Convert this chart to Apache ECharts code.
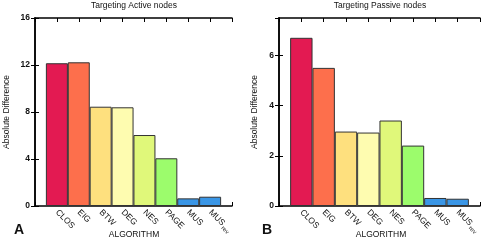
<!DOCTYPE html>
<html><head><meta charset="utf-8">
<script src="https://cdn.jsdelivr.net/npm/echarts@6/dist/echarts.min.js"></script>
<style>html,body{margin:0;padding:0;background:#fff}#c{width:485px;height:242px}</style>
</head><body><div id="c"></div>
<script>
const categories = ['CLOS','EIG','BTW','DEG','NES','PAGE','MUS','MUS_rev'];
const activeValues = [12.15, 12.23, 8.45, 8.4, 6.04, 4.06, 0.65, 0.79];
const passiveValues = [6.71, 5.51, 2.97, 2.93, 3.41, 2.41, 0.32, 0.29];
const barColors = ['#e31a52','#fd6f4c','#fee07e','#fefcb0','#e0f87a','#9cfc6c','#3a96e6','#3a96e6'];
const activeTicks = [0, 4, 8, 12, 16];
const passiveTicks = [0, 2, 4, 6];

const FONT = '"Liberation Sans", Arial, sans-serif';
const chart = echarts.init(document.getElementById('c'), null, {renderer: 'canvas'});

function catLabel(v) {
  const c = categories[v - 1];
  if (!c) return '';
  if (c === 'MUS_rev') return 'MUS{sub|rev}';
  return c;
}

const grids = [
  {left: 35, top: 18, width: 197, height: 188},
  {left: 279, top: 18, width: 201, height: 188}
];

const xAxes = [], yAxes = [], series = [];
[0, 1].forEach(g => {
  const ticksArr = g === 0 ? activeTicks : passiveTicks;
  const ymax = g === 0 ? 16 : 7.5;
  const interval = ticksArr[1] - ticksArr[0];
  xAxes.push({
    type: 'value', gridIndex: g, min: 0, max: 9, interval: 1, position: 'bottom',
    axisLine: {show: true, onZero: false, lineStyle: {color: '#000', width: 1.5}},
    axisTick: {show: true, inside: true, length: 4, lineStyle: {color: '#000'}},
    splitLine: {show: false},
    axisLabel: {
      show: true, rotate: -45, margin: 5, fontSize: 8.5, color: '#111', fontFamily: FONT,
      formatter: catLabel,
      rich: {sub: {fontSize: 6, verticalAlign: 'bottom', padding: [6, 0, 0, 1], fontFamily: FONT, color: '#111'}}
    }
  });
  xAxes.push({
    type: 'value', gridIndex: g, min: 0, max: 9, interval: 1, position: 'top',
    axisLine: {show: true, onZero: false, lineStyle: {color: '#000', width: 1.5}},
    axisTick: {show: true, inside: true, length: 4, lineStyle: {color: '#000'}},
    splitLine: {show: false}, axisLabel: {show: false}
  });
  yAxes.push({
    type: 'value', gridIndex: g, min: 0, max: ymax, interval: interval, position: 'left',
    axisLine: {show: true, lineStyle: {color: '#000', width: 1.5}},
    axisTick: {show: true, inside: true, length: 4, lineStyle: {color: '#000'}},
    splitLine: {show: false},
    axisLabel: {show: true, margin: 5, fontSize: 8.5, fontWeight: 'bold', color: '#111', fontFamily: FONT,
      showMaxLabel: g === 0,
      formatter: v => ticksArr.indexOf(v) >= 0 ? String(v) : ''}
  });
  yAxes.push({
    type: 'value', gridIndex: g, min: 0, max: ymax, interval: interval, position: 'right',
    axisLine: {show: true, lineStyle: {color: '#000', width: 1.5}},
    axisTick: {show: true, inside: true, length: 4, lineStyle: {color: '#000'}},
    splitLine: {show: false}, axisLabel: {show: false}
  });
  const vals = g === 0 ? activeValues : passiveValues;
  series.push({
    type: 'bar', xAxisIndex: g * 2, yAxisIndex: g * 2,
    barWidth: g === 0 ? 22 : 22.4,
    data: vals.map((v, i) => ({value: [i + 1, v], itemStyle: {color: barColors[i]}})),
    itemStyle: {borderColor: '#333', borderWidth: 1},
    emphasis: {disabled: true}, animation: false
  });
});

const txt = (x, y, text, size, weight, rot) => ({
  type: 'text', x: x, y: y, rotation: rot || 0,
  style: {text: text, fontSize: size, fontWeight: weight || 'normal', fontFamily: FONT, fill: '#111',
    align: 'center', verticalAlign: 'middle'}
});

chart.setOption({
  animation: false,
  grid: grids,
  xAxis: xAxes,
  yAxis: yAxes,
  series: series,
  graphic: [
    txt(134, 6, 'Targeting Active nodes', 8.5),
    txt(380, 6, 'Targeting Passive nodes', 8.5),
    txt(134, 235, 'ALGORITHM', 8.5),
    txt(381, 235, 'ALGORITHM', 8.5),
    txt(7, 112, 'Absolute Difference', 8.5, 'normal', Math.PI / 2),
    txt(255, 112, 'Absolute Difference', 8.5, 'normal', Math.PI / 2),
    txt(19, 230, 'A', 14, 'bold'),
    txt(267, 230, 'B', 14, 'bold')
  ]
});
</script></body></html>
